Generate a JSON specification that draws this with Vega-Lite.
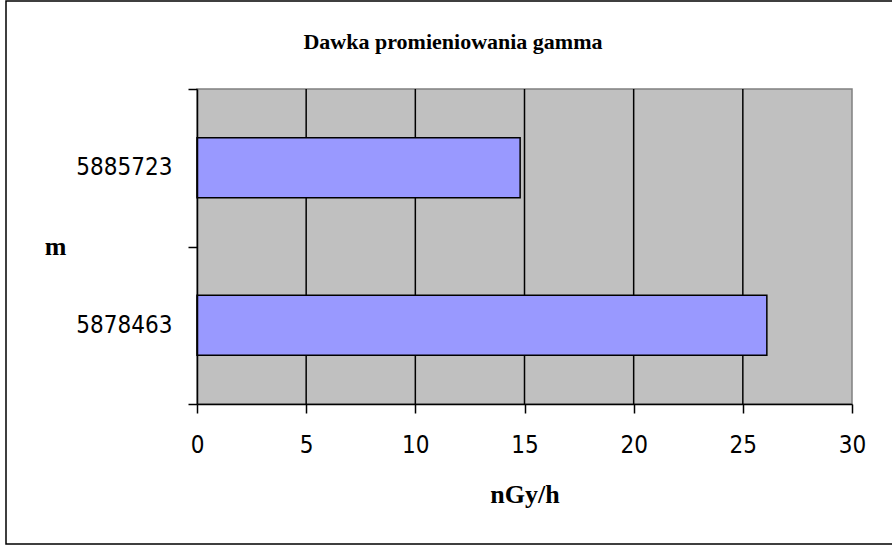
{
  "$schema": "https://vega.github.io/schema/vega-lite/v6.json",
  "width": 886,
  "height": 543,
  "autosize": {"type": "none"},
  "padding": {"left": 6, "top": 1, "right": 0, "bottom": 1},
  "background": "white",
  "title": {
    "text": "Dawka promieniowania gamma",
    "font": "Liberation Serif",
    "fontSize": 22,
    "fontWeight": "bold",
    "color": "black",
    "anchor": "middle",
    "baseline": "alphabetic",
    "offset": -82,
    "dx": 4
  },
  "config": {
    "view": {"stroke": "black", "strokeWidth": 1.5, "strokeDash": [886, 543, 1500], "fill": "white"}
  },
  "datasets": {
    "dawki": [
      {"m": "5885723", "dawka": 14.8},
      {"m": "5878463", "dawka": 26.1}
    ],
    "siatka": [{"v": 5}, {"v": 10}, {"v": 15}, {"v": 20}, {"v": 25}]
  },
  "layer": [
    {
      "data": {"values": [{}]},
      "mark": {"type": "rect", "fill": "#C0C0C0", "stroke": "#808080", "strokeWidth": 1.5},
      "encoding": {
        "x": {
          "datum": 0,
          "type": "quantitative",
          "title": "nGy/h",
          "scale": {"domain": [0, 30], "range": [191, 846], "nice": false, "zero": true},
          "axis": {
            "title": "nGy/h",
            "values": [0, 5, 10, 15, 20, 25, 30],
            "offset": -140,
            "zindex": 1,
            "grid": false,
            "domainColor": "black",
            "domainWidth": 1.5,
            "tickColor": "black",
            "tickWidth": 1.5,
            "tickSize": 9,
            "labelFont": "DejaVu Sans Condensed",
            "labelFontSize": 24,
            "labelColor": "black",
            "labelPadding": 20,
            "labelFlush": false,
            "labelOverlap": false,
            "titleFont": "Liberation Serif",
            "titleFontSize": 26,
            "titleFontWeight": "bold",
            "titleColor": "black",
            "titlePadding": 24
          }
        },
        "x2": {"datum": 30},
        "y": {
          "datum": 0,
          "type": "quantitative",
          "scale": {"domain": [0, 1], "range": [403, 88], "nice": false},
          "axis": null
        },
        "y2": {"datum": 1}
      }
    },
    {
      "data": {"name": "siatka"},
      "mark": {"type": "rule", "color": "black", "strokeWidth": 1.5},
      "encoding": {
        "x": {"field": "v", "type": "quantitative", "title": "nGy/h"},
        "y": {
          "datum": 0,
          "type": "quantitative",
          "scale": {"domain": [0, 1], "range": [403, 88], "nice": false},
          "axis": null
        },
        "y2": {"datum": 1}
      }
    },
    {
      "data": {"name": "dawki"},
      "mark": {"type": "bar", "fill": "#9999FF", "stroke": "black", "strokeWidth": 1.5, "height": {"band": 0.38}},
      "encoding": {
        "x": {"field": "dawka", "type": "quantitative", "title": "nGy/h"},
        "y": {
          "field": "m",
          "type": "nominal",
          "sort": ["5885723", "5878463"],
          "scale": {"range": [88, 403], "paddingInner": 0, "paddingOuter": 0},
          "axis": {
            "title": "m",
            "offset": -191,
            "zindex": 1,
            "tickBand": "extent",
            "grid": false,
            "domainColor": "black",
            "domainWidth": 1.5,
            "tickColor": "black",
            "tickWidth": 1.5,
            "tickSize": 9,
            "labelFont": "DejaVu Sans Condensed",
            "labelFontSize": 24,
            "labelColor": "black",
            "labelPadding": 16,
            "titleAngle": 0,
            "titleAlign": "right",
            "titleBaseline": "middle",
            "titleFont": "Liberation Serif",
            "titleFontSize": 26,
            "titleFontWeight": "bold",
            "titleColor": "black",
            "titlePadding": 10
          }
        }
      }
    }
  ],
  "resolve": {"scale": {"y": "independent"}, "axis": {"y": "independent"}}
}
